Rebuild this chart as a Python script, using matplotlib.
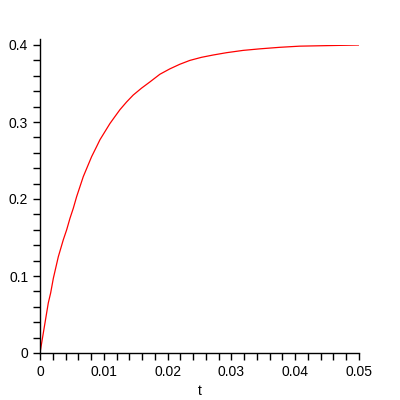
import matplotlib
matplotlib.use("Agg")
import matplotlib.pyplot as plt
from matplotlib.ticker import MultipleLocator

# values
t = [0.0, 0.00052, 0.00078, 0.0013, 0.00167, 0.00209, 0.00287, 0.00365,
     0.00418, 0.0047, 0.00522, 0.00574, 0.00678, 0.00809, 0.00887, 0.0094,
     0.01096, 0.01174, 0.01253, 0.01357, 0.01461, 0.01592, 0.01722, 0.01879,
     0.02035, 0.02192, 0.02349, 0.02531, 0.02714, 0.02923, 0.03184, 0.03445,
     0.03758, 0.04071, 0.04384, 0.05]
v = [0.0, 0.026, 0.039, 0.065, 0.078, 0.097, 0.125, 0.147,
     0.160, 0.175, 0.188, 0.203, 0.229, 0.255, 0.268, 0.277,
     0.298, 0.307, 0.316, 0.326, 0.335, 0.344, 0.352, 0.362,
     0.369, 0.375, 0.380, 0.384, 0.387, 0.390, 0.393, 0.395,
     0.397, 0.3985, 0.399, 0.400]

xticks = [0, 0.01, 0.02, 0.03, 0.04, 0.05]
xticklabels = ['0', '0.01', '0.02', '0.03', '0.04', '0.05']
yticks = [0, 0.1, 0.2, 0.3, 0.4]
yticklabels = ['0', '0.1', '0.2', '0.3', '0.4']

plt.rcParams['font.family'] = ['Liberation Sans', 'DejaVu Sans']

fig = plt.figure(figsize=(4, 4), dpi=100)
ax = fig.add_axes([0.1, 0.1175, 0.7975, 0.77])

ax.plot(t, v, color='red', linewidth=0.9)

ax.set_xlim(0, 0.05)
ax.set_ylim(0, 0.4)
ax.set_xticks(xticks)
ax.set_xticklabels(xticklabels)
ax.set_yticks(yticks)
ax.set_yticklabels(yticklabels)
ax.xaxis.set_minor_locator(MultipleLocator(0.002))
ax.yaxis.set_minor_locator(MultipleLocator(0.02))
ax.tick_params(which='both', direction='out', length=5, width=1, labelsize=10)
ax.tick_params(axis='x', pad=4)
ax.set_xlabel('t', fontsize=10, labelpad=3)

ax.spines['top'].set_visible(False)
ax.spines['right'].set_visible(False)
ax.spines['left'].set_bounds(0, 0.408)
ax.spines['left'].set_clip_on(False)
ax.spines['left'].set_linewidth(1)
ax.spines['bottom'].set_linewidth(1)

fig.savefig('out.png', dpi=100)
